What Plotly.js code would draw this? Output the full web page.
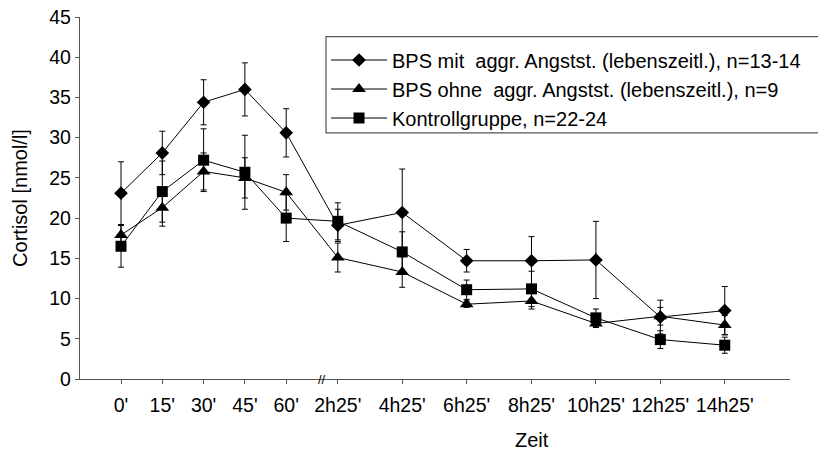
<!DOCTYPE html>
<html>
<head>
<meta charset="utf-8">
<script src="https://cdn.plot.ly/plotly-3.0.1.min.js"></script>
<style>
  html, body { margin: 0; padding: 0; background: #fff; }
  #chart { width: 818px; height: 453px; }
</style>
</head>
<body>
<div id="chart"></div>
<script>
// Time points (broken time axis: 15-min steps, then 2-h steps)
const zeitLabels = ["0'", "15'", "30'", "45'", "60'", "2h25'", "4h25'", "6h25'", "8h25'", "10h25'", "12h25'", "14h25'"];
const zeitPos = [0, 1, 2, 3, 4, 5.25, 6.81, 8.37, 9.94, 11.5, 13.06, 14.62];

// BPS mit aggr. Angstst. (lebenszeitl.), n=13-14
const bpsMit = [23.1, 28.1, 34.4, 36.0, 30.6, 19.1, 20.7, 14.7, 14.7, 14.8, 7.7, 8.5];
const bpsMitErr = [3.9, 2.7, 2.8, 3.3, 3.0, 2.0, 5.4, 1.4, 3.0, 4.8, 2.1, 3.0];

// BPS ohne aggr. Angstst. (lebenszeitl.), n=9
const bpsOhne = [17.9, 21.3, 25.8, 25.0, 23.2, 15.1, 13.3, 9.3, 9.7, 6.9, 7.8, 6.7];
const bpsOhneErr = [1.2, 2.3, 2.3, 2.5, 2.2, 1.8, 1.9, 0.4, 1.0, 0.5, 1.1, 1.2];

// Kontrollgruppe, n=22-24
const kontroll = [16.5, 23.3, 27.2, 25.7, 20.0, 19.6, 15.8, 11.1, 11.2, 7.6, 4.9, 4.2];
const kontrollErr = [2.6, 3.8, 3.9, 4.6, 2.9, 2.3, 2.5, 1.2, 2.2, 1.1, 1.1, 1.0];

const yTicks = [0, 5, 10, 15, 20, 25, 30, 35, 40, 45];

const FONT = "Liberation Sans, Arial, sans-serif";

function mk(name, y, err, symbol, size) {
  return {
    type: 'scatter', mode: 'lines+markers', name: name,
    x: zeitPos, y: y,
    line: {color: '#000', width: 1},
    marker: {symbol: symbol, size: size, color: '#000'},
    error_y: {type: 'data', array: err, visible: true, color: '#000', thickness: 1, width: 3}
  };
}

const data = [
  mk('BPS mit  aggr. Angstst. (lebenszeitl.), n=13-14', bpsMit, bpsMitErr, 'diamond', 10.5),
  mk('BPS ohne  aggr. Angstst. (lebenszeitl.), n=9', bpsOhne, bpsOhneErr, 'triangle-up', 12),
  mk('Kontrollgruppe, n=22-24', kontroll, kontrollErr, 'square', 11)
];

const layout = {
  width: 818, height: 453,
  margin: {l: 80, r: 28, t: 17, b: 74},
  paper_bgcolor: '#fff', plot_bgcolor: '#fff',
  font: {family: FONT, size: 19.5, color: '#000'},
  showlegend: true,
  legend: {
    x: 0.3465, xanchor: 'left', y: 0.935, yanchor: 'top',
    bgcolor: 'rgba(0,0,0,0)', borderwidth: 0,
    font: {family: FONT, size: 20, color: '#000'},
    itemwidth: 56, tracegroupgap: 0
  },
  xaxis: {
    range: [-0.993, 16.2],
    tickmode: 'array', tickvals: zeitPos, ticktext: zeitLabels,
    ticks: 'outside', ticklen: 4, tickcolor: '#555', tickwidth: 1,
    ticklabelstandoff: 4,
    showline: true, linecolor: '#555', linewidth: 1.2,
    showgrid: false, zeroline: false,
    tickfont: {family: FONT, size: 19.5, color: '#000'}
  },
  yaxis: {
    range: [0, 45],
    tickmode: 'array', tickvals: yTicks,
    ticks: 'outside', ticklen: 4, tickcolor: '#555', tickwidth: 1,
    showline: true, linecolor: '#555', linewidth: 1.2,
    showgrid: false, zeroline: false,
    tickfont: {family: FONT, size: 19.5, color: '#000'},
    title: {text: 'Cortisol [nmol/l]', font: {family: FONT, size: 20, color: '#000'}, standoff: 16}
  },
  shapes: [
    {type: 'path', xref: 'paper', yref: 'paper',
     path: 'M 1.05,0.9456 L 0.3465,0.9456 L 0.3465,0.680 L 1.05,0.680',
     line: {color: '#555', width: 1.2}}
  ],
  annotations: [
    {text: 'Zeit', xref: 'paper', yref: 'paper', x: 0.636, y: -0.1685,
     xanchor: 'center', yanchor: 'middle', showarrow: false,
     font: {family: FONT, size: 20, color: '#000'}},
    {text: '//', xref: 'x', yref: 'y', x: 4.87, y: 0,
     xanchor: 'center', yanchor: 'middle', showarrow: false,
     font: {family: FONT, size: 13, color: '#000'}}
  ]
};

Plotly.newPlot('chart', data, layout, {displayModeBar: false, staticPlot: true});
</script>
</body>
</html>
